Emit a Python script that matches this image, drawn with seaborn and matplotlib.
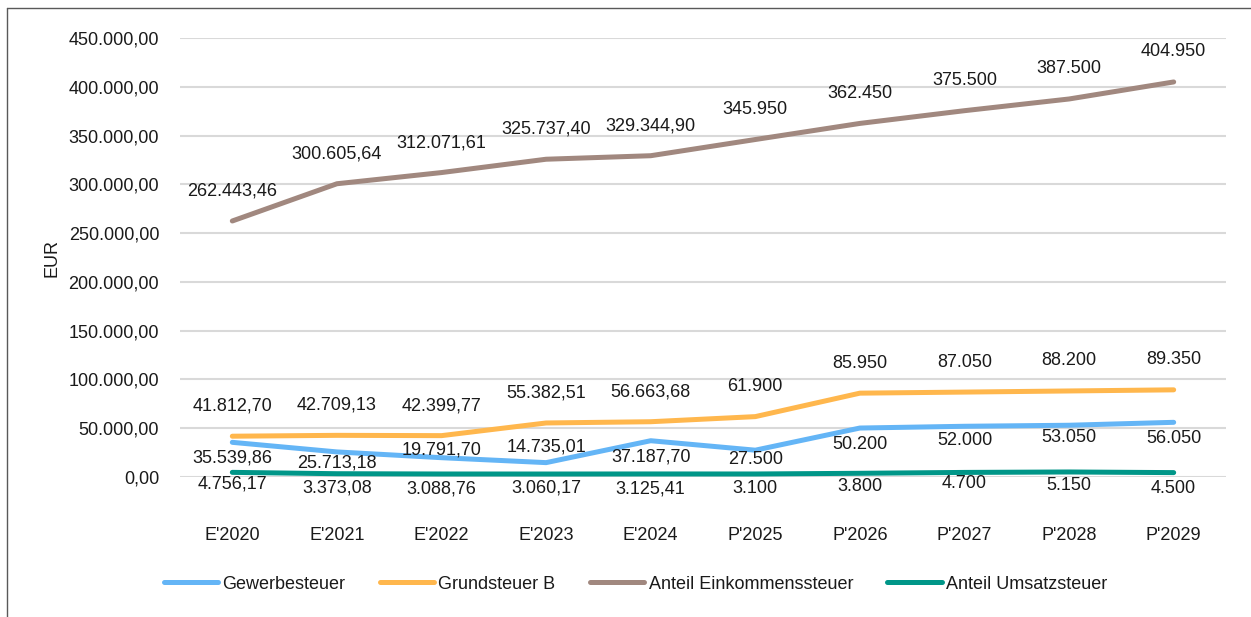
import pandas as pd
import numpy as np
import matplotlib.pyplot as plt
import seaborn as sns
from matplotlib.lines import Line2D

sns.set_theme(style="white")
plt.rcParams['font.family'] = ['Liberation Sans', 'DejaVu Sans']

# data
years = ["E'2020", "E'2021", "E'2022", "E'2023", "E'2024",
         "P'2025", "P'2026", "P'2027", "P'2028", "P'2029"]
gewerbe = [35539.86, 25713.18, 19791.70, 14735.01, 37187.70,
           27500, 50200, 52000, 53050, 56050]
grund_b = [41812.70, 42709.13, 42399.77, 55382.51, 56663.68,
           61900, 85950, 87050, 88200, 89350]
einkommen = [262443.46, 300605.64, 312071.61, 325737.40, 329344.90,
             345950, 362450, 375500, 387500, 404950]
umsatz = [4756.17, 3373.08, 3088.76, 3060.17, 3125.41,
          3100, 3800, 4700, 5150, 4500]

series = {
    'Gewerbesteuer': gewerbe,
    'Grundsteuer B': grund_b,
    'Anteil Einkommenssteuer': einkommen,
    'Anteil Umsatzsteuer': umsatz,
}
colors = ['#64B5F6', '#FFB74D', '#A1887F', '#009688']

df = pd.concat([pd.DataFrame({'Jahr': years, 'Wert': v, 'Steuer': k})
                for k, v in series.items()], ignore_index=True)


def de_fmt(v, dec):
    s = f"{v:,.{dec}f}"
    return s.replace(',', '#').replace('.', ',').replace('#', '.')


FS = 13

fig = plt.figure(figsize=(12.51, 6.17), dpi=100)
ax = fig.add_axes([0.1439, 0.2269, 0.98 - 0.1439, 0.9384 - 0.2269])

sns.lineplot(data=df, x='Jahr', y='Wert', hue='Steuer', palette=colors,
             linewidth=3.6, sort=False, ax=ax, legend=False)
for ln in ax.get_lines():
    ln.set_solid_capstyle('round')
    ln.set_solid_joinstyle('round')

ax.set_xlim(-0.5, len(years) - 0.5)
ax.set_ylim(0, 450000)
ax.set_yticks(np.arange(0, 450001, 50000))
ax.set_yticklabels([de_fmt(t, 2) for t in ax.get_yticks()])
ax.grid(axis='y', color='#D9D9D9', linewidth=1.5)
ax.set_axisbelow(True)
for sp in ax.spines.values():
    sp.set_visible(False)
ax.tick_params(axis='y', length=0, pad=15, labelsize=FS, labelcolor='#1A1A1A')
ax.tick_params(axis='x', length=0, pad=36, labelsize=FS, labelcolor='#1A1A1A')
ax.set_xlabel('')
ax.set_ylabel('EUR', fontsize=FS, color='#1A1A1A', labelpad=6)

# data labels (vertical offset in pixels, positive = below)
label_offsets = {
    'Gewerbesteuer': [16, 11, -8, -16, 16, 9, 16, 14, 12, 16],
    'Grundsteuer B': [-30] * 10,
    'Anteil Einkommenssteuer': [-30] * 10,
    'Anteil Umsatzsteuer': [12, 14, 15, 14, 15, 15, 13, 11, 14, 16],
}
for name, vals in series.items():
    for i, v in enumerate(vals):
        dec = 2 if years[i].startswith('E') else 0
        ax.annotate(de_fmt(v, dec), (i, v),
                    xytext=(0, -label_offsets[name][i] * 0.72),
                    textcoords='offset points', ha='center', va='center',
                    fontsize=FS, color='#1A1A1A', annotation_clip=False)

handles = [Line2D([0], [0], color=c, linewidth=3.6, solid_capstyle='round')
           for c in colors]
fig.legend(handles, list(series.keys()), loc='center',
           bbox_to_anchor=(0.508, 0.053), ncol=4, frameon=False,
           fontsize=FS, handlelength=3.0, handletextpad=0.25,
           columnspacing=1.9, labelcolor='#1A1A1A')

# outer frame (only left and top edges visible)
fig.add_artist(Line2D([7 / 1251, 7 / 1251], [0, 1 - 8 / 617],
                      transform=fig.transFigure, color='#595959', linewidth=1))
fig.add_artist(Line2D([7 / 1251, 1], [1 - 8 / 617, 1 - 8 / 617],
                      transform=fig.transFigure, color='#595959', linewidth=1))

fig.savefig('out.png', dpi=100)
